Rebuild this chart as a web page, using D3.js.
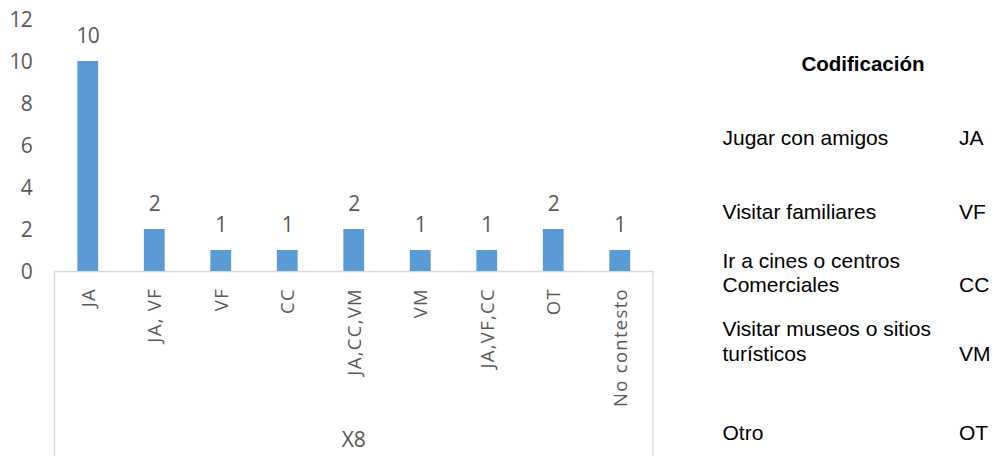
<!DOCTYPE html>
<html><head><meta charset="utf-8">
<script src="https://cdn.jsdelivr.net/npm/d3@7"></script>
<style>body{margin:0;background:#fff}svg{display:block}</style>
</head><body>
<svg id="c" width="998" height="456"></svg>
<script>
const categories = ["JA","JA, VF","VF","CC","JA,CC,VM","VM","JA,VF,CC","OT","No contesto"];
const values = [10,2,1,1,2,1,1,2,1];
const yTicks = [0,2,4,6,8,10,12];
const axisTitle = "X8";
const legendTitle = "Codificación";
const legendLabels = [["Jugar con amigos"],["Visitar familiares"],["Ir a cines o centros","Comerciales"],["Visitar museos o sitios","turísticos"],["Otro"]];
const legendCodes = ["JA","VF","CC","VM","OT"];

const svg = d3.select("#c");
const font = "'Open Sans', sans-serif";
const grey = "#595959";
const xBox = d3.scaleBand().domain(categories).range([54.5,653]);
const y = d3.scaleLinear().domain([0,12]).range([271,19]);

// box
svg.append("path").attr("d",`M54.5,456V271.5H653V456`).attr("fill","none").attr("stroke","#d9d9d9").attr("stroke-width",1.3);

// y axis labels
const ya = svg.append("g").attr("transform","translate(32,0)").call(d3.axisLeft(y).tickValues(yTicks).tickSize(0).tickPadding(0));
ya.select(".domain").remove();
ya.selectAll("text").attr("font-family",font).attr("font-size",21).attr("letter-spacing",-0.8).attr("fill",grey).attr("dy","0.36em");

// bars
svg.selectAll("rect.bar").data(values).join("rect").attr("class","bar")
  .attr("x",(d,i)=>xBox(categories[i])+xBox.bandwidth()/2-10.4).attr("width",20.8)
  .attr("y",d=>y(d)).attr("height",d=>y(0)-y(d)).attr("fill","#5b9bd5");

// data labels
svg.selectAll("text.dl").data(values).join("text").attr("class","dl")
  .attr("x",(d,i)=>xBox(categories[i])+xBox.bandwidth()/2).attr("y",d=>y(d)-18.5)
  .attr("text-anchor","middle").attr("font-family",font).attr("font-size",21).attr("letter-spacing",-0.8).attr("fill",grey).text(d=>d);

// category labels
svg.selectAll("text.cat").data(categories).join("text").attr("class","cat")
  .attr("transform",d=>`translate(${xBox(d)+xBox.bandwidth()/2+7},288) rotate(-90)`)
  .attr("text-anchor","end").attr("font-family",font).attr("font-size",18.5).attr("letter-spacing",1.3).attr("fill",grey).text(d=>d);

svg.append("text").attr("x",(54.5+653)/2).attr("y",447).attr("text-anchor","middle")
  .attr("font-family",font).attr("font-size",21).attr("fill",grey).text(axisTitle);

// legend
const lf = "'Liberation Sans', Arial, sans-serif";
svg.append("text").attr("x",863).attr("y",71).attr("text-anchor","middle").attr("font-family",lf)
  .attr("font-weight","bold").attr("font-size",20.5).attr("fill","#000").text(legendTitle);
const baselines = [[145],[219],[268,292],[336,361],[440]];
legendLabels.forEach((lines,i)=>{
  lines.forEach((t,j)=>{
    svg.append("text").attr("x",722.5).attr("y",baselines[i][j]).attr("font-family",lf).attr("font-size",21).attr("fill","#000").text(t);
  });
  svg.append("text").attr("x",959).attr("y",baselines[i][baselines[i].length-1]).attr("font-family",lf).attr("font-size",21).attr("fill","#000").text(legendCodes[i]);
});
</script>
</body></html>
